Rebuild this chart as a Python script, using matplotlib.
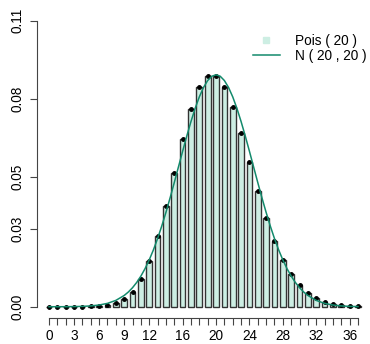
import matplotlib.pyplot as plt
from matplotlib.lines import Line2D
import numpy as np

# Poisson(20) probabilities, k = 0..37
k = np.arange(0, 38)
pois = [0.0000, 0.0000, 0.0000, 0.0000, 0.0000, 0.0001, 0.0002, 0.0005,
        0.0013, 0.0029, 0.0058, 0.0106, 0.0176, 0.0271, 0.0387, 0.0516,
        0.0646, 0.0760, 0.0844, 0.0888, 0.0888, 0.0846, 0.0769, 0.0669,
        0.0557, 0.0446, 0.0343, 0.0254, 0.0181, 0.0125, 0.0083, 0.0054,
        0.0034, 0.0020, 0.0012, 0.0007, 0.0004, 0.0002]

# N(20, 20) curve points
curve_x = [0, 1, 2, 3, 4, 5, 6, 7, 8, 9, 9.5, 10, 10.5, 11, 11.5, 12, 12.5,
           13, 13.5, 14, 14.5, 15, 15.5, 16, 16.5, 17, 17.5, 18, 18.5, 19,
           19.5, 20, 20.5, 21, 21.5, 22, 22.5, 23, 23.5, 24, 24.5, 25, 25.5,
           26, 26.5, 27, 27.5, 28, 28.5, 29, 29.5, 30, 30.5, 31, 32, 33, 34,
           35, 36, 37]
curve_y = [0.0000041, 0.0000107, 0.0000271, 0.0000650, 0.000148, 0.000322,
           0.000664, 0.001305, 0.002437, 0.004332, 0.005669, 0.007323,
           0.009344, 0.011775, 0.014654, 0.018010, 0.021860, 0.026205,
           0.031024, 0.036268, 0.041875, 0.047749, 0.053771, 0.059797,
           0.065672, 0.071233, 0.076302, 0.080717, 0.084327, 0.087003,
           0.088650, 0.089206, 0.088650, 0.087003, 0.084327, 0.080717,
           0.076302, 0.071233, 0.065672, 0.059797, 0.053771, 0.047749,
           0.041875, 0.036268, 0.031024, 0.026205, 0.021860, 0.018010,
           0.014654, 0.011775, 0.009344, 0.007323, 0.005669, 0.004332,
           0.002437, 0.001305, 0.000664, 0.000322, 0.000148, 0.0000650]

yticks = [0, 0.03, 0.05, 0.08, 0.11]
ylabels = ["0.00", "0.03", "0.05", "0.08", "0.11"]
xlabels = [0, 3, 6, 9, 12, 16, 20, 24, 28, 32, 36]

fill = "#cdeee3"
green = "#138a6c"

plt.rcParams['font.family'] = ['Liberation Sans', 'DejaVu Sans']

fig = plt.figure(figsize=(3.70, 3.44), dpi=100)
ax = fig.add_axes([0.099, 0.075, 0.902, 0.898])

ax.bar(k, pois, width=0.68, color=fill, edgecolor="#333333", linewidth=1.0,
       zorder=2)
ax.plot(k, pois, "o", color="black", markersize=2.5, zorder=3)
ax.plot(curve_x, curve_y, color=green, linewidth=1.1, zorder=4)

ax.set_xlim(-1.48, 38.48)
ax.set_ylim(-0.0044, 0.1144)

for s in ["top", "right"]:
    ax.spines[s].set_visible(False)
ax.spines["left"].set_bounds(0, 0.11)
ax.spines["bottom"].set_bounds(0, 37)
ax.spines["left"].set_color("#444444")
ax.spines["bottom"].set_color("#444444")

ax.set_yticks(yticks)
ax.set_yticklabels(ylabels, rotation=90, va="center", fontsize=9.8)
ax.set_xticks(k)
ax.set_xticklabels([str(i) if i in xlabels else "" for i in k], fontsize=9.8)
ax.tick_params(axis="both", length=5, width=0.8, color="#444444", pad=4)
ax.tick_params(axis="x", pad=2.5)

handles = [Line2D([], [], marker="s", color="none", markerfacecolor=fill,
                  markeredgecolor=fill, markersize=5),
           Line2D([], [], color=green, linewidth=1.1)]
ax.legend(handles, ["Pois ( 20 )", "N ( 20 , 20 )"], loc="upper left",
          bbox_to_anchor=(0.668, 0.917), bbox_transform=fig.transFigure,
          borderaxespad=0, frameon=False, fontsize=9.8,
          handlelength=2.0, labelspacing=0.05, handletextpad=1.1)

fig.savefig("out.png", dpi=100)
